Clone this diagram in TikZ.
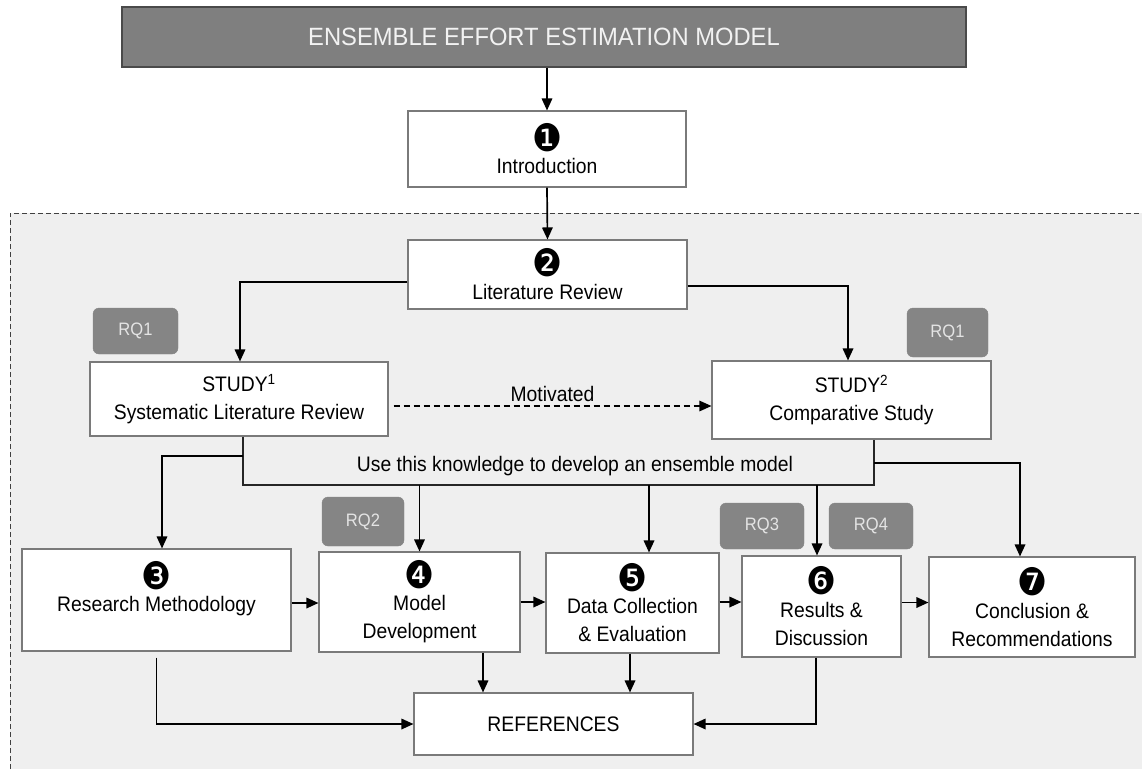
\documentclass[tikz,border=0pt]{standalone}
\usepackage{fontspec}
\setmainfont[FakeStretch=0.92]{Liberation Sans}
\newfontfamily\titlefont[FakeStretch=0.95]{Liberation Sans}
\newfontfamily\dingfont[FakeStretch=0.88]{DejaVu Sans}
\usetikzlibrary{arrows.meta}
\definecolor{bggray}{HTML}{EFEFEF}
\definecolor{boxborder}{HTML}{7A7A7A}
\definecolor{titlefill}{HTML}{7F7F7F}
\definecolor{titleborder}{HTML}{4A4A4A}
\definecolor{rqfill}{HTML}{858585}
\definecolor{rqtext}{HTML}{E4E4E4}
\newcommand\myBody{\fontsize{21}{28}\selectfont}
\newcommand\stepnum[1]{{\fontsize{38}{28}\selectfont\dingfont #1}}
\tikzset{
  stagebox/.style={draw=boxborder, line width=1.1pt, fill=white, inner sep=0pt, align=center, font=\myBody},
  rqbox/.style={fill=rqfill, draw=rqfill, rounded corners=6pt, text=rqtext, inner sep=0pt, font=\fontsize{18}{20}\selectfont},
  arr/.style={line width=1.7pt, -{Triangle[length=12pt,width=10.5pt]}},
  thinline/.style={line width=1.2pt, draw=black!85},
  dasharr/.style={line width=1.3pt, dash pattern=on 6pt off 4pt, -{Triangle[length=12pt,width=10.5pt]}},
}
\begin{document}
\begin{tikzpicture}[x=1pt,y=-1pt]
\useasboundingbox (0,0) rectangle (1142,769);
\fill[bggray] (10,213) rectangle (1142,769);
\draw[line width=0.8pt, dash pattern=on 5pt off 3pt, draw=black!75] (10,769) -- (10,213) -- (1142,213);

% title
\node[fill=titlefill, draw=titleborder, line width=2pt, minimum width=844pt, minimum height=60pt, inner sep=0pt,
      text=white!95!black, font=\titlefont\fontsize{25}{28}\selectfont] (title) at (544,37) {ENSEMBLE EFFORT ESTIMATION MODEL};

% boxes
\node[stagebox, minimum width=278pt, minimum height=76pt] (intro) at (547,149) {\stepnum{❶}\\[-6pt]Introduction};
\node[stagebox, minimum width=279pt, minimum height=69pt] (lit) at (547.5,274.5) {\stepnum{❷}\\[-5pt]Literature Review};
\node[stagebox, minimum width=298pt, minimum height=74pt] (s1) at (239,399) {STUDY\textsuperscript{1}\\Systematic Literature Review};
\node[stagebox, minimum width=279pt, minimum height=78pt] (s2) at (851.5,400) {STUDY\textsuperscript{2}\\Comparative Study};
\node[stagebox, minimum width=269pt, minimum height=102pt] (b3) at (156.5,600) {\stepnum{❸}\\[-6pt]Research Methodology\\~};
\node[stagebox, minimum width=201pt, minimum height=100pt] (b4) at (419.5,602) {\stepnum{❹}\\[-6pt]Model\\Development};
\node[stagebox, minimum width=173pt, minimum height=100pt] (b5) at (632.5,603) {\stepnum{❺}\\[-6pt]Data Collection\\\& Evaluation};
\node[stagebox, minimum width=159pt, minimum height=101pt] (b6) at (821.5,606.5) {\stepnum{❻}\\[-5pt]Results \&\\Discussion};
\node[stagebox, minimum width=206pt, minimum height=100pt] (b7) at (1032,607) {\stepnum{❼}\\[-5pt]Conclusion \&\\Recommendations};
\node[stagebox, minimum width=279pt, minimum height=62pt] (refs) at (553.5,724) {REFERENCES};

% RQ tags
\node[rqbox, minimum width=85pt, minimum height=46pt] (rq1a) at (135.5,331) {RQ1};
\node[rqbox, minimum width=81pt, minimum height=49pt] (rq1b) at (947.5,332.5) {RQ1};
\node[rqbox, minimum width=82pt, minimum height=49pt] (rq2) at (363,521.5) {RQ2};
\node[rqbox, minimum width=84pt, minimum height=46pt] (rq3) at (762,526) {RQ3};
\node[rqbox, minimum width=84pt, minimum height=46pt] (rq4) at (871,526) {RQ4};

% text
\node[font=\myBody, inner sep=0pt] (use) at (575,466) {Use this knowledge to develop an ensemble model};

% coordinates
\coordinate (kl) at (243,485);
\coordinate (kr) at (874,485);
\coordinate (k3) at (243,456);
\coordinate (k7) at (874,463);

% connectors
\draw[arr] (intro.north |- title.south) -- (intro.north);
\draw[arr] (intro.south) -- (lit.north);
\draw[arr] ([yshift=-7.5pt]lit.west) -| ([xshift=1pt]s1.north);
\draw[arr] ([yshift=-11.5pt]lit.east) -| ([xshift=-3.5pt]s2.north);
\draw[dasharr] ([xshift=5pt,yshift=-7pt]s1.east) -- ([yshift=-7pt]s1.east -| s2.west)
  node[midway, above=4pt, font=\myBody, inner sep=0pt] (mot) {Motivated};

\draw[thinline] (kl |- s1.south) -- (kl) -- (kr) -- (kr |- s2.south);
\draw[arr] (k3) -| ([xshift=5.5pt]b3.north);
\draw[arr] (b4.north |- kl) -- (b4.north);
\draw[arr] ([xshift=16.5pt]b5.north |- kl) -- ([xshift=16.5pt]b5.north);
\draw[arr] ([xshift=-4.5pt]b6.north |- kl) -- ([xshift=-4.5pt]b6.north);
\draw[arr] (k7) -| ([xshift=-12pt]b7.north);

\draw[arr] ([yshift=-3pt]b3.east) -- ([yshift=-3pt]b3.east -| b4.west);
\draw[arr] (b4.east) -- (b4.east -| b5.west);
\draw[arr] ([yshift=1pt]b5.east) -- ([yshift=1pt]b5.east -| b6.west);
\draw[arr] ([yshift=4pt]b6.east) -- ([yshift=4pt]b6.east -| b7.west);

\draw[arr] ([yshift=-6pt]b3.south) |- (refs.west);
\draw[arr] ([xshift=63.5pt]b4.south) -- ([xshift=63.5pt]b4.south |- refs.north);
\draw[arr] ([xshift=-2.5pt]b5.south) -- ([xshift=-2.5pt]b5.south |- refs.north);
\draw[arr] ([xshift=-5.5pt]b6.south) |- (refs.east);
\end{tikzpicture}
\end{document}
